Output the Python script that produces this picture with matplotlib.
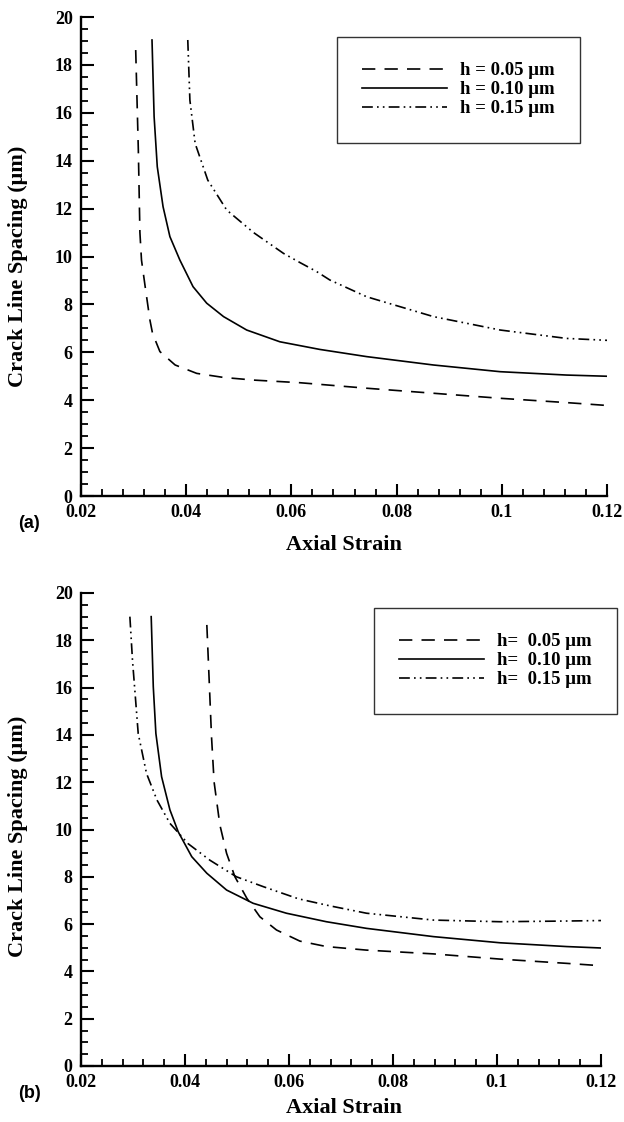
import numpy as np
import matplotlib
matplotlib.use("Agg")
import matplotlib.pyplot as plt
from matplotlib.ticker import MultipleLocator

# --- Panel (a) data ---
a_x_005 = [0.0304, 0.0309, 0.0312, 0.0315, 0.0322, 0.0331, 0.0336, 0.0350, 0.0379, 0.0420,
           0.0471, 0.0528, 0.0616, 0.0743, 0.0870, 0.0997, 0.1123, 0.1200]
a_y_005 = [18.62, 14.45, 11.0, 9.85, 8.74, 7.35, 6.79, 6.03, 5.47, 5.12,
           4.95, 4.84, 4.73, 4.50, 4.29, 4.08, 3.90, 3.78]
a_x_010 = [0.0335, 0.0339, 0.0345, 0.0356, 0.0369, 0.0388, 0.0413, 0.0439, 0.0471, 0.0515,
           0.0578, 0.0654, 0.0743, 0.0870, 0.0997, 0.1123, 0.1200]
a_y_010 = [19.04, 15.84, 13.75, 12.08, 10.83, 9.85, 8.74, 8.05, 7.49, 6.93,
           6.44, 6.12, 5.82, 5.47, 5.19, 5.05, 5.00]
a_x_015 = [0.0403, 0.0407, 0.0417, 0.0441, 0.0477, 0.0528, 0.0585, 0.0616, 0.0648, 0.0673,
           0.0743, 0.0870, 0.0997, 0.1123, 0.1200]
a_y_015 = [19.04, 16.53, 14.72, 13.19, 11.94, 11.0, 10.13, 9.75, 9.37, 9.02,
           8.32, 7.49, 6.93, 6.58, 6.50]

# --- Panel (b) data ---
b_x_005 = [0.0442, 0.0447, 0.0451, 0.0456, 0.0467, 0.0480, 0.0496, 0.0519, 0.0544, 0.0576,
           0.0621, 0.0672, 0.0749, 0.0878, 0.1006, 0.1134, 0.1200]
b_y_005 = [18.65, 16.04, 13.92, 12.0, 10.2, 8.99, 8.0, 7.09, 6.31, 5.75,
           5.28, 5.05, 4.90, 4.74, 4.52, 4.34, 4.24]
b_x_010 = [0.0335, 0.0339, 0.0344, 0.0355, 0.0371, 0.0387, 0.0413, 0.0442, 0.0480, 0.0531,
           0.0595, 0.0672, 0.0749, 0.0878, 0.1006, 0.1134, 0.1200]
b_y_010 = [19.0, 16.04, 14.06, 12.23, 10.83, 9.9, 8.85, 8.15, 7.44, 6.88,
           6.46, 6.10, 5.82, 5.47, 5.21, 5.05, 4.99]
b_x_015 = [0.0294, 0.0299, 0.0304, 0.0310, 0.0326, 0.0346, 0.0371, 0.0406, 0.0448, 0.0499,
           0.0551, 0.0618, 0.0679, 0.0749, 0.0878, 0.1006, 0.1134, 0.1200]
b_y_015 = [19.0, 17.16, 15.76, 14.06, 12.37, 11.25, 10.26, 9.4, 8.7, 8.0,
           7.58, 7.07, 6.77, 6.46, 6.17, 6.10, 6.13, 6.15]

labels_a = ["h = 0.05 \u03bcm", "h = 0.10 \u03bcm", "h = 0.15 \u03bcm"]
labels_b = ["h=  0.05 \u03bcm", "h=  0.10 \u03bcm", "h=  0.15 \u03bcm"]

serif = "Liberation Serif"
dash_style = (0, (8, 5.5))
dashdot_style = (0, (6.5, 2.5, 1, 2.5, 1, 2.5))

W, H = 624, 1122
fig = plt.figure(figsize=(W / 100, H / 100), dpi=100)
fig.patch.set_facecolor("white")


def px_axes(left, top, right, bottom):
    return fig.add_axes([left / W, 1 - bottom / H, (right - left) / W, (bottom - top) / H])


def fmt_x(v, pos):
    s = f"{v:.2f}"
    return "0.1" if s == "0.10" else s


def style_axes(ax):
    ax.set_xlim(0.02, 0.12)
    ax.set_ylim(0, 20)
    ax.spines["top"].set_visible(False)
    ax.spines["right"].set_visible(False)
    for s in ("left", "bottom"):
        ax.spines[s].set_linewidth(1.7)
    ax.xaxis.set_major_locator(MultipleLocator(0.02))
    ax.xaxis.set_minor_locator(MultipleLocator(0.004))
    ax.yaxis.set_major_locator(MultipleLocator(2))
    ax.yaxis.set_minor_locator(MultipleLocator(0.5))
    ax.xaxis.set_major_formatter(plt.FuncFormatter(fmt_x))
    ax.tick_params(which="major", direction="in", length=9, width=1.5, top=False, right=False, pad=6)
    ax.tick_params(which="minor", direction="in", length=5, width=1.3, top=False, right=False)
    for lab in ax.get_xticklabels() + ax.get_yticklabels():
        lab.set_fontfamily(serif)
        lab.set_fontweight("bold")
        lab.set_fontsize(13)


def draw_panel(ax, data, labels, leg_anchor, tag, tag_y, xlabel_y, ylabel_y):
    styles = [dash_style, "-", dashdot_style]
    for (xs, ys), ls, lab in zip(data, styles, labels):
        ax.plot(xs, ys, color="black", linestyle=ls, linewidth=1.2, label=lab)
    style_axes(ax)
    leg = ax.legend(loc="upper left", bbox_to_anchor=leg_anchor, bbox_transform=fig.transFigure,
                    prop={"family": serif, "weight": "bold", "size": 13.5},
                    frameon=True, fancybox=False, edgecolor="black", borderpad=1.35,
                    handlelength=4.5, handletextpad=0.7, labelspacing=0.1, borderaxespad=0)
    leg.get_frame().set_linewidth(1.0)
    fig.text(18 / W, 1 - ylabel_y / H, "Crack Line Spacing (\u03bcm)", fontfamily=serif,
             fontweight="bold", fontsize=16, rotation=90, ha="center", va="center")
    fig.text(18 / W, 1 - tag_y / H, tag, fontfamily="Liberation Sans", fontweight="bold",
             fontsize=13, ha="left", va="center")
    fig.text(344 / W, 1 - xlabel_y / H, "Axial Strain", fontfamily=serif, fontweight="bold",
             fontsize=16, ha="center", va="center")


ax1 = px_axes(81, 17, 607, 496)
draw_panel(ax1, [(a_x_005, a_y_005), (a_x_010, a_y_010), (a_x_015, a_y_015)], labels_a,
           (337 / W, 1 - 37 / H), "(a)", 524, 545, 266)

ax2 = px_axes(81, 593, 601, 1066)
draw_panel(ax2, [(b_x_005, b_y_005), (b_x_010, b_y_010), (b_x_015, b_y_015)], labels_b,
           (374 / W, 1 - 608 / H), "(b)", 1093, 1108, 836)

fig.savefig("out.png", dpi=100, facecolor="white")
